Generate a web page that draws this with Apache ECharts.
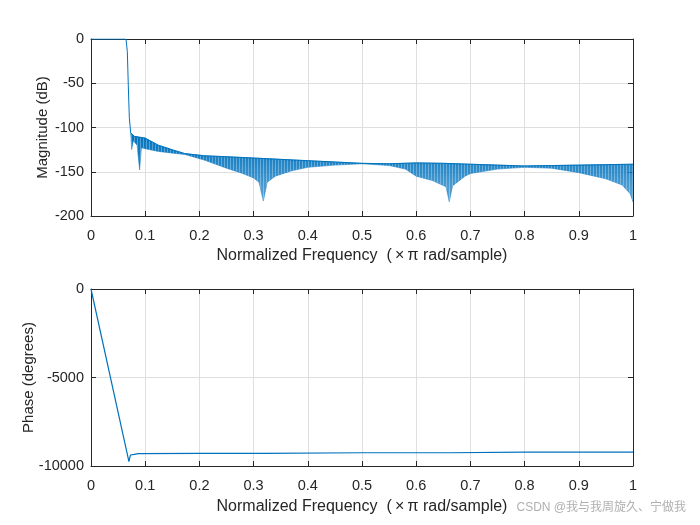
<!DOCTYPE html>
<html>
<head>
<meta charset="utf-8">
<script src="https://cdn.jsdelivr.net/npm/echarts@6/dist/echarts.min.js"></script>
<style>html,body{margin:0;padding:0;background:#fff;}#c{width:700px;height:525px;}</style>
</head>
<body>
<div id="c"></div>
<script>
// x tick labels (normalized frequency)
var xTicks = [0, 0.1, 0.2, 0.3, 0.4, 0.5, 0.6, 0.7, 0.8, 0.9, 1];
// magnitude: passband + transition (single line)
var magLineF  = [0, 0.0646, 0.067, 0.0688, 0.0707, 0.0732];
var magLineDb = [0, 0, -14, -52, -89, -106];
// stopband ripple, upper envelope
var upperF  = [0.0732, 0.08, 0.09, 0.1, 0.124, 0.151, 0.173, 0.21, 0.25, 0.3, 0.35, 0.4, 0.45, 0.5, 0.55, 0.6, 0.65, 0.7, 0.75, 0.8, 0.85, 0.9, 0.95, 1];
var upperDb = [-106, -110, -111, -112, -120, -125.4, -129.5, -132, -133, -134.5, -136, -137.5, -139, -140.5, -141, -140, -140.5, -141.5, -142.5, -143.5, -143, -142.5, -142, -141.5];
// stopband ripple, lower envelope
var lowerF  = [0.0732, 0.075, 0.078, 0.085, 0.0897, 0.093, 0.1, 0.124, 0.151, 0.173, 0.21, 0.25, 0.28, 0.3, 0.31, 0.318, 0.325, 0.34, 0.37, 0.4, 0.45, 0.5, 0.55, 0.58, 0.6, 0.63, 0.655, 0.661, 0.667, 0.69, 0.7, 0.75, 0.8, 0.85, 0.9, 0.95, 0.98, 0.995, 1];
var lowerDb = [-106, -125, -115, -120, -148, -123, -124, -127, -129, -130.5, -137, -146, -152, -157, -162, -183, -162, -155, -149, -145, -142.5, -141, -143, -147, -155, -160, -167, -184, -166, -155, -152, -147, -145, -146, -151, -158, -165, -175, -184];
// phase
var phaseF   = [0, 0.070, 0.0727, 0.076, 0.08, 0.087, 0.2, 0.32, 0.322, 0.5, 0.66, 0.662, 0.8, 1];
var phaseDeg = [0, -9756, -9380, -9400, -9340, -9300, -9285, -9285, -9250, -9250, -9250, -9215, -9215, -9215];

var magTicks = [0, -50, -100, -150, -200];
var phaseTicks = [0, -5000, -10000];

function zip(a, b) { return a.map(function (v, i) { return [v, b[i]]; }); }

var FONT = "'Liberation Sans', Arial, Helvetica, sans-serif";
var AXC = '#262626';
var BLUE = '#0072BD';

function xAxisMain(gi, gap) {
  return {
    type: 'value', gridIndex: gi, min: xTicks[0], max: xTicks[xTicks.length - 1], interval: 0.1,
    name: 'Normalized Frequency  (\u2009\u00D7\u2009\u03C0 rad/sample)', nameLocation: 'middle', nameGap: gap,
    nameMoveOverlap: false,
    nameTextStyle: { fontFamily: FONT, fontSize: 16, color: AXC },
    axisLine: { show: true, onZero: false, lineStyle: { color: AXC, width: 1 } },
    axisTick: { show: true, inside: true, length: 5, lineStyle: { color: AXC } },
    axisLabel: { margin: 12, fontFamily: FONT, fontSize: 14.5, color: AXC,
      formatter: function (v) { return String(Math.round(v * 10) / 10); } },
    splitLine: { show: true, lineStyle: { color: '#dfdfdf', width: 1 } }
  };
}
function xAxisTop(gi) {
  return {
    type: 'value', gridIndex: gi, min: 0, max: 1, interval: 0.1, position: 'top',
    axisLine: { show: true, onZero: false, lineStyle: { color: AXC, width: 1 } },
    axisTick: { show: true, inside: true, length: 5, lineStyle: { color: AXC } },
    axisLabel: { show: false }, splitLine: { show: false }
  };
}
function yAxisMain(gi, ticks, name, gap) {
  return {
    type: 'value', gridIndex: gi, min: ticks[ticks.length - 1], max: ticks[0],
    interval: ticks[0] - ticks[1],
    name: name, nameLocation: 'middle', nameGap: gap, nameMoveOverlap: false,
    nameTextStyle: { fontFamily: FONT, fontSize: 15, color: AXC },
    axisLine: { show: true, onZero: false, lineStyle: { color: AXC, width: 1 } },
    axisTick: { show: true, inside: true, length: 5, lineStyle: { color: AXC } },
    axisLabel: { margin: 7, fontFamily: FONT, fontSize: 14.5, color: AXC,
      formatter: function (v) { return String(v); } },
    splitLine: { show: true, lineStyle: { color: '#dfdfdf', width: 1 } }
  };
}
function yAxisRight(gi, ticks) {
  return {
    type: 'value', gridIndex: gi, min: ticks[ticks.length - 1], max: ticks[0],
    interval: ticks[0] - ticks[1], position: 'right',
    axisLine: { show: true, onZero: false, lineStyle: { color: AXC, width: 1 } },
    axisTick: { show: true, inside: true, length: 5, lineStyle: { color: AXC } },
    axisLabel: { show: false }, splitLine: { show: false }
  };
}

var bandPoly = zip(upperF, upperDb).concat(zip(lowerF, lowerDb).reverse());

// faint white vertical stripe pattern to mimic dense ripple lines
var stripe = document.createElement('canvas');
stripe.width = 3; stripe.height = 4;
(function () {
  var g = stripe.getContext('2d');
  g.fillStyle = 'rgba(255,255,255,0.3)';
  g.fillRect(2, 0, 1, 4);
})();

var chart = echarts.init(document.getElementById('c'), null, { renderer: 'canvas' });
chart.setOption({
  backgroundColor: '#ffffff',
  animation: false,
  grid: [
    { left: 91, top: 39, width: 542, height: 177 },
    { left: 91, top: 289, width: 542, height: 177 }
  ],
  xAxis: [xAxisMain(0, 32), xAxisMain(1, 33), xAxisTop(0), xAxisTop(1)],
  yAxis: [
    yAxisMain(0, magTicks, 'Magnitude (dB)', 41),
    yAxisMain(1, phaseTicks, 'Phase (degrees)', 55),
    yAxisRight(0, magTicks),
    yAxisRight(1, phaseTicks)
  ],
  series: [
    {
      type: 'custom', xAxisIndex: 0, yAxisIndex: 0, clip: true,
      data: [0],
      renderItem: function (params, api) {
        var pts = bandPoly.map(function (p) { return api.coord(p); });
        return {
          type: 'group',
          children: [
            {
              type: 'polygon', shape: { points: pts },
              style: {
                fill: new echarts.graphic.LinearGradient(0, 0, 0, 1, [
                  { offset: 0, color: 'rgba(0,114,189,1)' },
                  { offset: 0.4, color: 'rgba(0,114,189,0.88)' },
                  { offset: 1, color: 'rgba(0,114,189,0.6)' }
                ]),
                stroke: 'rgba(0,114,189,0.8)', lineWidth: 0.6
              }
            },
            {
              type: 'polygon', shape: { points: pts },
              style: { fill: { image: stripe, repeat: 'repeat' }, stroke: null }
            }
          ]
        };
      },
      z: 3
    },
    {
      type: 'line', xAxisIndex: 0, yAxisIndex: 0, data: zip(magLineF, magLineDb),
      symbol: 'none', lineStyle: { color: BLUE, width: 1 }, z: 4
    },
    {
      type: 'line', xAxisIndex: 0, yAxisIndex: 0, data: zip(upperF, upperDb),
      symbol: 'none', lineStyle: { color: BLUE, width: 1 }, z: 4
    },
    {
      type: 'line', xAxisIndex: 1, yAxisIndex: 1, data: zip(phaseF, phaseDeg),
      symbol: 'none', lineStyle: { color: BLUE, width: 1.2 }, z: 4
    }
  ],
  graphic: [
    { type: 'text', right: 14, top: 502,
      style: { text: 'CSDN @我与我周旋久、宁做我', fill: '#b0b0b0',
        font: "12px 'Liberation Sans', 'Noto Sans CJK SC', sans-serif" } }
  ]
});
</script>
</body>
</html>
